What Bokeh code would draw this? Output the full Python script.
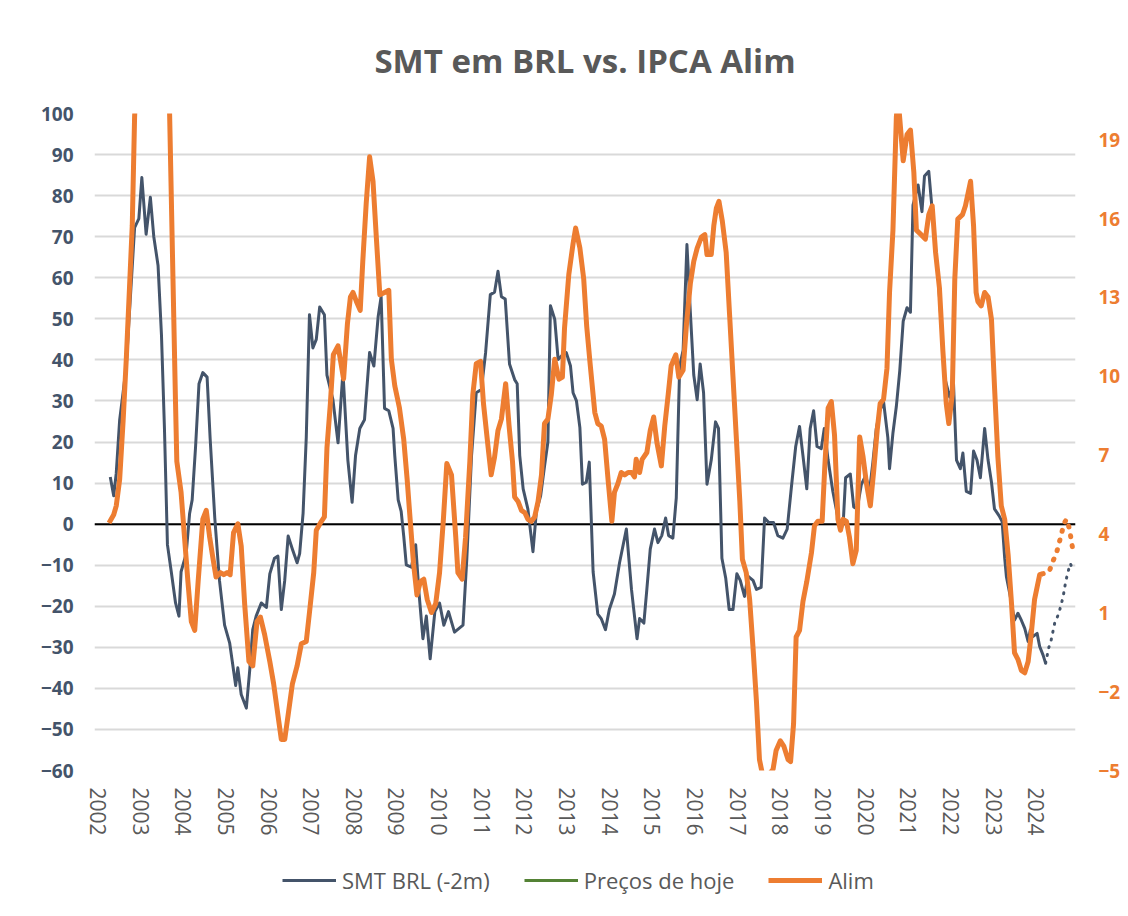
from bokeh.plotting import figure
from bokeh.models import Range1d, LinearAxis, FixedTicker, Legend, LegendItem, Span
from bokeh.layouts import column
from bokeh.embed import file_html
from bokeh.resources import INLINE

# ---------------- data (decimal years) ----------------
smt_t = [2002.29, 2002.37, 2002.43, 2002.51, 2002.59, 2002.665, 2002.74, 2002.86, 2002.96, 2003.03,
         2003.13, 2003.23, 2003.31, 2003.41, 2003.49, 2003.56, 2003.63, 2003.72, 2003.82, 2003.9,
         2003.95, 2004.07, 2004.15, 2004.21, 2004.29, 2004.37, 2004.46, 2004.56, 2004.63, 2004.74,
         2004.85, 2004.97, 2005.09, 2005.23, 2005.28, 2005.36, 2005.48, 2005.56, 2005.63, 2005.71,
         2005.83, 2005.95, 2006.03, 2006.14, 2006.22, 2006.3, 2006.38, 2006.46, 2006.56, 2006.67,
         2006.73, 2006.81, 2006.885, 2006.96, 2007.04, 2007.12, 2007.2, 2007.31, 2007.37, 2007.51,
         2007.63, 2007.745, 2007.86, 2007.96, 2008.04, 2008.14, 2008.25, 2008.37, 2008.47, 2008.57,
         2008.64, 2008.72, 2008.82, 2008.92, 2008.96, 2009.04, 2009.11, 2009.17, 2009.23, 2009.35,
         2009.45, 2009.53, 2009.62, 2009.7, 2009.79, 2009.9, 2010.01, 2010.11, 2010.22, 2010.36,
         2010.56, 2010.65, 2010.76, 2010.87, 2010.99, 2011.09, 2011.2, 2011.3, 2011.38, 2011.46,
         2011.55, 2011.65, 2011.77, 2011.83, 2011.89, 2011.97, 2012.08, 2012.2, 2012.28, 2012.38,
         2012.47, 2012.55, 2012.61, 2012.71, 2012.79, 2012.89, 2012.98, 2013.08, 2013.14, 2013.22,
         2013.3, 2013.36, 2013.45, 2013.52, 2013.61, 2013.72, 2013.8, 2013.9, 2013.99, 2014.11,
         2014.23, 2014.39, 2014.51, 2014.64, 2014.7, 2014.8, 2014.87, 2014.95, 2015.05, 2015.13,
         2015.22, 2015.31, 2015.38, 2015.48, 2015.56, 2015.64, 2015.72, 2015.81, 2015.89, 2015.97,
         2016.05, 2016.12, 2016.2, 2016.28, 2016.38, 2016.48, 2016.55, 2016.63, 2016.72, 2016.8,
         2016.89, 2016.98, 2017.06, 2017.16, 2017.24, 2017.36, 2017.44, 2017.55, 2017.63, 2017.73,
         2017.84, 2017.94, 2018.06, 2018.16, 2018.26, 2018.36, 2018.45, 2018.53, 2018.62, 2018.7,
         2018.78, 2018.86, 2018.96, 2019.03, 2019.12, 2019.23, 2019.35, 2019.43, 2019.48, 2019.53,
         2019.64, 2019.72, 2019.8, 2019.9, 2020.0, 2020.09, 2020.17, 2020.25, 2020.33, 2020.42,
         2020.52, 2020.56, 2020.64, 2020.72, 2020.8, 2020.88, 2020.97, 2021.05, 2021.11, 2021.23,
         2021.32, 2021.38, 2021.48, 2021.54, 2021.62, 2021.7, 2021.77, 2021.85, 2021.97, 2022.06,
         2022.13, 2022.22, 2022.28, 2022.36, 2022.46, 2022.53, 2022.61, 2022.69, 2022.79, 2022.87,
         2022.95, 2023.02, 2023.13, 2023.2, 2023.26, 2023.3, 2023.38, 2023.49, 2023.57, 2023.65,
         2023.73, 2023.81, 2023.86, 2023.92, 2024.02, 2024.08, 2024.16, 2024.22]
smt_v = [11.5, 6.9, 12.4, 25.4, 32, 38.5, 51.6, 72.2, 74.4, 84.4,
         70.6, 79.6, 70, 63, 46.1, 23.3, -5, -11.6, -19.2, -22.4,
         -11.6, -7.2, 2.6, 5.9, 18.9, 34.2, 36.9, 35.8, 21.1, 1.5,
         -13.7, -24.6, -29, -39.3, -35, -41.5, -44.8, -35.5, -25.7, -22.4,
         -19.2, -20.3, -12.1, -8.3, -7.8, -20.8, -13.7, -2.9, -6.1, -9.4,
         -7.2, 2.6, 21.1, 51, 42.9, 45, 52.9, 51, 36.3, 30.3,
         19.8, 37, 15.6, 5.3, 16.7, 23.3, 25.4, 41.8, 38.5, 50.5,
         55.4, 28.2, 27.6, 23.3, 16.7, 5.9, 3.1, -2.9, -9.9, -10.5,
         -5, -17, -27.9, -22.4, -32.8, -21.3, -19.2, -24.6, -21.3, -26.3,
         -24.6, -8.3, 16.7, 32, 32.8, 41.8, 55.9, 56.5, 61.6, 55.4,
         54.8, 39, 35.2, 34.2, 16.7, 8.6, 3.7, -6.7, 3.1, 6.9,
         14, 20, 53.2, 49.9, 40.1, 41.2, 41.8, 38.5, 32, 30,
         23.5, 9.7, 10.2, 15.1, -11.6, -21.9, -23, -25.7, -20.8, -17,
         -9.4, -1.2, -15.9, -27.9, -23, -24.1, -15.9, -6.1, -1.2, -4.5,
         -2.8, 1.5, -2.8, -3.4, 6.4, 38.5, 42.3, 68.1, 51.6, 36.3,
         30.3, 39, 32, 9.7, 15.6, 24.9, 23.3, -8.3, -13.2, -20.8,
         -20.8, -12.1, -13.7, -17.6, -12.7, -13.7, -15.9, -15.4, 1.5, 0.4,
         0.4, -2.8, -3.4, -1.2, 9.1, 18.9, 23.8, 16.7, 8.6, 23.3,
         27.6, 18.9, 18.4, 23.3, 15.6, 8, 1.5, -1.2, 1.5, 11.3,
         12.2, 4.2, 3.7, 9.7, 11.8, 8, 15.1, 23.3, 27.6, 29.8,
         21.1, 13.5, 22.2, 28.7, 37.4, 49.4, 52.7, 51.6, 77.7, 82.6,
         76.1, 84.8, 85.9, 78.8, 69, 60.3, 48.8, 35.8, 30.9, 34.2,
         15.6, 13.5, 17.3, 8, 7.5, 17.8, 15.6, 11.3, 23.3, 15.6,
         10.2, 3.7, 2, 0.6, -8.3, -12.8, -17, -23.4, -21.7, -23.4,
         -25.4, -28.6, -25.8, -27.4, -26.6, -29.8, -31.9, -33.9]

smt_fc_t = [2024.22, 2024.29, 2024.35, 2024.43, 2024.53, 2024.63, 2024.69, 2024.75, 2024.8, 2024.86]
smt_fc_v = [-33.9, -30.2, -28.2, -24.2, -21.7, -17.7, -14, -11.4, -9.6, -11.2]

alim_t = [2002.26, 2002.37, 2002.43, 2002.51, 2002.59, 2002.665, 2002.74, 2002.805, 2002.86, 2002.95,
          2003.1, 2003.3, 2003.5, 2003.68, 2003.76, 2003.82, 2003.85, 2003.95, 2004.03, 2004.11,
          2004.19, 2004.27, 2004.35, 2004.46, 2004.54, 2004.62, 2004.7, 2004.77, 2004.87, 2004.95,
          2005.03, 2005.1, 2005.18, 2005.28, 2005.36, 2005.44, 2005.54, 2005.63, 2005.73, 2005.81,
          2005.91, 2006.03, 2006.12, 2006.22, 2006.3, 2006.38, 2006.46, 2006.56, 2006.67, 2006.77,
          2006.885, 2006.96, 2007.06, 2007.12, 2007.24, 2007.31, 2007.37, 2007.45, 2007.52, 2007.63,
          2007.76, 2007.85, 2007.92, 2007.98, 2008.06, 2008.15, 2008.21, 2008.29, 2008.37, 2008.45,
          2008.53, 2008.61, 2008.72, 2008.82, 2008.88, 2008.96, 2009.07, 2009.17, 2009.25, 2009.32,
          2009.4, 2009.48, 2009.56, 2009.64, 2009.72, 2009.82, 2009.92, 2010.01, 2010.1, 2010.18,
          2010.29, 2010.39, 2010.44, 2010.54, 2010.62, 2010.72, 2010.79, 2010.87, 2010.97, 2011.04,
          2011.15, 2011.22, 2011.3, 2011.38, 2011.46, 2011.56, 2011.64, 2011.72, 2011.77, 2011.85,
          2011.93, 2012.01, 2012.08, 2012.16, 2012.24, 2012.32, 2012.4, 2012.47, 2012.55, 2012.63,
          2012.71, 2012.81, 2012.89, 2012.94, 2013.04, 2013.14, 2013.2, 2013.3, 2013.39, 2013.46,
          2013.54, 2013.65, 2013.72, 2013.8, 2013.88, 2013.96, 2014.05, 2014.11, 2014.19, 2014.27,
          2014.35, 2014.43, 2014.51, 2014.58, 2014.62, 2014.7, 2014.76, 2014.87, 2014.95, 2015.03,
          2015.11, 2015.21, 2015.29, 2015.37, 2015.44, 2015.55, 2015.62, 2015.72, 2015.8, 2015.89,
          2015.97, 2016.05, 2016.15, 2016.23, 2016.28, 2016.38, 2016.44, 2016.5, 2016.56, 2016.64,
          2016.73, 2016.81, 2016.89, 2016.97, 2017.05, 2017.11, 2017.2, 2017.28, 2017.36, 2017.44,
          2017.51, 2017.6, 2017.71, 2017.83, 2017.9, 2018.0, 2018.08, 2018.18, 2018.24, 2018.31,
          2018.37, 2018.45, 2018.53, 2018.62, 2018.73, 2018.8, 2018.88, 2018.98, 2019.04, 2019.12,
          2019.195, 2019.27, 2019.35, 2019.41, 2019.47, 2019.55, 2019.62, 2019.7, 2019.78, 2019.86,
          2019.94, 2020.02, 2020.11, 2020.19, 2020.27, 2020.34, 2020.42, 2020.5, 2020.56, 2020.64,
          2020.72, 2020.76, 2020.8, 2020.88, 2020.97, 2021.05, 2021.13, 2021.19, 2021.3, 2021.4,
          2021.48, 2021.56, 2021.64, 2021.73, 2021.81, 2021.89, 2021.95, 2022.03, 2022.09, 2022.16,
          2022.27, 2022.34, 2022.46, 2022.53, 2022.59, 2022.63, 2022.71, 2022.79, 2022.87, 2022.95,
          2023.02, 2023.1, 2023.18, 2023.26, 2023.34, 2023.42, 2023.49, 2023.57, 2023.65, 2023.73,
          2023.81, 2023.88, 2023.96, 2024.08, 2024.14]
alim_v = [4.42, 4.73, 5.07, 6.08, 8.28, 10.65, 13.36, 15.73, 19.87, 23,
          26, 27, 24, 20.07, 13.7, 8.96, 6.76, 5.58, 3.88, 2.19,
          0.67, 0.33, 2.19, 4.56, 4.9, 3.88, 3.04, 2.36, 2.53, 2.45,
          2.53, 2.45, 4.05, 4.39, 3.54, 1.35, -0.85, -1.02, 0.67, 0.84,
          0.16, -0.85, -1.7, -2.88, -3.82, -3.82, -2.88, -1.7, -1.02, -0.18,
          -0.09, 1.01, 2.53, 4.14, 4.48, 4.65, 7.27, 8.96, 10.82, 11.16,
          9.9, 12.0, 13.02, 13.19, 12.85, 12.51, 14.37, 16.57, 18.35, 17.42,
          15.22, 13.1, 13.19, 13.27, 10.65, 9.64, 8.79, 7.6, 6.08, 4.56,
          2.87, 1.68, 2.19, 2.28, 1.51, 1.01, 1.35, 2.53, 4.56, 6.68,
          6.25, 3.88, 2.53, 2.28, 3.88, 6.76, 9.3, 10.48, 10.57, 8.96,
          7.27, 6.25, 6.93, 7.94, 8.37, 9.72, 8.11, 6.76, 5.41, 5.24,
          4.9, 4.81, 4.56, 4.48, 4.65, 5.24, 6.25, 8.2, 8.37, 9.3,
          10.65, 9.89, 9.97, 11.84, 13.87, 15.05, 15.64, 14.88, 13.7, 11.9,
          10.48, 8.62, 8.2, 8.11, 7.6, 6.08, 4.48, 5.58, 5.91, 6.34,
          6.25, 6.34, 6.34, 6.17, 6.84, 6.34, 6.84, 7.1, 7.94, 8.45,
          7.44, 6.59, 8.11, 9.3, 10.4, 10.82, 9.97, 10.23, 12.0, 13.53,
          14.37, 14.88, 15.3, 15.39, 14.63, 14.63, 15.73, 16.4, 16.66, 15.9,
          14.71, 12.34, 9.97, 7.6, 5.24, 3.04, 2.53, 1.51, -0.35, -2.38,
          -4.58, -5.3, -5.2, -4.95, -4.24, -3.87, -4.07, -4.58, -4.66, -3.22,
          0.08, 0.33, 1.43, 2.19, 3.29, 4.31, 4.48, 4.48, 6.5, 8.79,
          9.04, 7.77, 4.56, 4.14, 4.56, 4.48, 3.88, 2.87, 3.38, 7.69,
          6.93, 5.91, 5.07, 6.42, 7.94, 8.96, 9.13, 10.31, 13.19, 15.56,
          19.87, 20.6, 19.8, 18.2, 19.2, 19.37, 17.76, 15.56, 15.39, 15.22,
          16.15, 16.49, 14.71, 13.36, 10.99, 8.96, 8.2, 9.3, 13.7, 15.98,
          16.15, 16.49, 17.42, 15.73, 13.19, 12.85, 12.68, 13.19, 13.02, 12.17,
          9.64, 6.93, 5.07, 4.56, 3.21, 1.35, -0.52, -0.77, -1.19, -1.28,
          -0.85, 0.16, 1.51, 2.45, 2.48]

alim_fc_t = [2024.14, 2024.3, 2024.38, 2024.47, 2024.53, 2024.59, 2024.65, 2024.71, 2024.78, 2024.82, 2024.86]
alim_fc_v = [2.48, 2.55, 2.93, 3.25, 3.62, 4.0, 4.4, 4.56, 4.19, 3.77, 3.37]

# "Preços de hoje" has no visible values in the chart (legend entry only)
hoje_t = [2024.22]
hoje_v = [float("nan")]

year_ticks = list(range(2002, 2025))
left_ticks = list(range(-60, 101, 10))
right_ticks = [-5, -2, 1, 4, 7, 10, 13, 16, 19]

BLUE = "#44546A"
ORANGE = "#ED7D31"
GREEN = "#548235"
GRAY = "#595959"
FONT = "Open Sans"

p = figure(frame_width=981, frame_height=657, output_backend="svg", toolbar_location=None,
           x_range=Range1d(2001.92, 2024.92), y_range=Range1d(-60, 100),
           min_border_left=94, min_border_right=46, min_border_top=113, min_border_bottom=88)
p.extra_y_ranges = {"r": Range1d(-5, 20)}
p.outline_line_color = None
p.background_fill_color = "white"
p.border_fill_color = "white"

# title
p.title.text = "SMT em BRL vs. IPCA Alim"
p.title.align = "center"
p.title.text_font = FONT
p.title.text_font_size = "33px"
p.title.text_font_style = "bold"
p.title.text_color = GRAY
p.title.standoff = 62

# axes
xa = p.xaxis[0]
xa.ticker = FixedTicker(ticks=year_ticks)
xa.major_label_orientation = "vertical"
xa.major_label_text_font = FONT
xa.major_label_text_font_size = "21px"
xa.major_label_text_color = GRAY
xa.major_label_standoff = 17
xa.major_tick_out = 0
xa.major_tick_in = 0
xa.axis_line_color = None
xa.major_tick_line_color = None
xa.minor_tick_line_color = None

ya = p.yaxis[0]
ya.ticker = FixedTicker(ticks=left_ticks)
ya.major_label_text_font = FONT
ya.major_label_text_font_size = "19px"
ya.major_label_text_font_style = "bold"
ya.major_label_text_color = BLUE
ya.major_label_standoff = 21
ya.major_tick_out = 0
ya.major_tick_in = 0
ya.axis_line_color = None
ya.major_tick_line_color = None
ya.minor_tick_line_color = None

ra = LinearAxis(y_range_name="r", ticker=FixedTicker(ticks=right_ticks))
ra.major_label_text_font = FONT
ra.major_label_text_font_size = "19px"
ra.major_label_text_font_style = "bold"
ra.major_label_text_color = ORANGE
ra.major_label_standoff = 23
ra.major_tick_out = 0
ra.major_tick_in = 0
ra.axis_line_color = None
ra.major_tick_line_color = None
ra.minor_tick_line_color = None
p.add_layout(ra, "right")

p.xgrid.grid_line_color = None
p.ygrid.ticker = FixedTicker(ticks=left_ticks)
p.ygrid.grid_line_color = "#D9D9D9"
p.ygrid.grid_line_width = 2

zero = Span(location=0, dimension="width", line_color="black", line_width=2, level="underlay")
p.add_layout(zero)

# series
p.line(smt_t, smt_v, line_color=BLUE, line_width=3, line_join="round")
p.line(smt_fc_t, smt_fc_v, line_color=BLUE, line_width=3, line_dash="1 7", line_cap="round")
p.line(hoje_t, hoje_v, line_color=GREEN, line_width=3)
p.line(alim_t, alim_v, y_range_name="r", line_color=ORANGE, line_width=5, line_join="round")
p.line(alim_fc_t, alim_fc_v, y_range_name="r", line_color=ORANGE, line_width=5,
       line_dash="1 9", line_cap="round")

# ---------------- legend strip (separate figure under the chart) ----------------
pl = figure(width=1121, height=46, output_backend="svg", toolbar_location=None,
            x_range=Range1d(0, 1), y_range=Range1d(0, 1), min_border=0)
pl.axis.visible = False
pl.grid.visible = False
pl.outline_line_color = None
pl.background_fill_color = "white"
pl.border_fill_color = "white"
l_smt = pl.line(smt_t, smt_v, line_color=BLUE, line_width=3)
l_hoje = pl.line(hoje_t, hoje_v, line_color=GREEN, line_width=3)
l_alim = pl.line(alim_t, alim_v, line_color=ORANGE, line_width=5)

legend = Legend(items=[LegendItem(label="SMT BRL (-2m)", renderers=[l_smt]),
                       LegendItem(label="Preços de hoje", renderers=[l_hoje]),
                       LegendItem(label="Alim", renderers=[l_alim])],
                orientation="horizontal", location=(184, 5),
                glyph_width=54, glyph_height=20, label_standoff=6, spacing=34,
                label_text_font=FONT, label_text_font_size="22px", label_text_color=GRAY,
                border_line_alpha=0, background_fill_alpha=0, margin=0, padding=4)
pl.add_layout(legend, "center")

layout = column(p, pl, spacing=0)
open("out.html", "w").write(file_html(layout, INLINE))
